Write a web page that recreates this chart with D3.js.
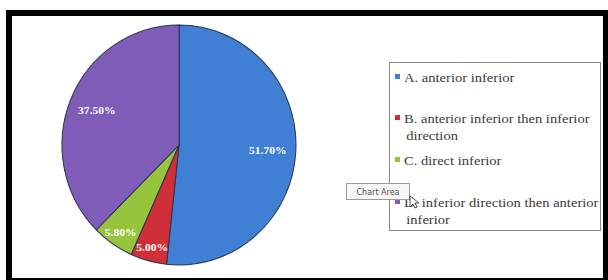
<!DOCTYPE html>
<html>
<head>
<meta charset="utf-8">
<script src="https://cdn.jsdelivr.net/npm/d3@7"></script>
<style>
  body { margin: 0; background: #fff; }
  svg { display: block; }
</style>
</head>
<body>
<div id="chart"></div>
<script>
// slices, clockwise from 12 o'clock
const categories = ["A", "B", "C", "D"]
const values = [51.70, 5.00, 5.80, 37.50]
const pctLabels = ["51.70%", "5.00%", "5.80%", "37.50%"]
const legendLines = [
    ["A. anterior inferior"],
    ["B. anterior inferior then inferior", "direction"],
    ["C. direct inferior"],
    ["D. inferior direction then anterior", "inferior"]
]
const colors = ["#3f7fd4", "#cf2f38", "#96c43c", "#7e5cb7"]

const width = 608, height = 280

const svg = d3.select("#chart").append("svg")
    .attr("width", width)
    .attr("height", height)

// black frame around the picture
svg.append("rect").attr("x", 6).attr("y", 10).attr("width", 602).attr("height", 272).attr("fill", "#000")
svg.append("rect").attr("x", 12).attr("y", 16).attr("width", 591).attr("height", 262).attr("fill", "#fff")

// pie (slightly taller than wide, like the stretched screenshot)
const cx = 179, cy = 145, R = 117
const g = svg.append("g")
    .attr("transform", `translate(${cx},${cy}) scale(1,1.026)`)

const pie = d3.pie().sort(null).value(d => d.value)
const arcs = pie(values.map((v, i) => ({cat: categories[i], value: v, label: pctLabels[i], color: colors[i]})))

const arc = d3.arc().innerRadius(0).outerRadius(R)

g.selectAll("path")
    .data(arcs)
    .join("path")
    .attr("d", arc)
    .attr("fill", d => d.data.color)
    .attr("stroke", "#2d3350")
    .attr("stroke-width", 1)

// data labels: bigger slices closer to centre, small ones near the rim
g.selectAll("text")
    .data(arcs)
    .join("text")
    .attr("transform", d => {
        const r = d.data.value < 10 ? R * 0.88 : R * 0.76
        const c = d3.arc().innerRadius(r).outerRadius(r).centroid(d)
        return `translate(${c[0]},${c[1]}) scale(1.1,${1 / 1.026})`
    })
    .attr("text-anchor", "middle")
    .attr("dy", "0.35em")
    .attr("font-family", "Liberation Serif, serif")
    .attr("font-weight", "bold")
    .attr("font-size", 10.5)
    .attr("fill", "#fff")
    .text(d => d.data.label)

// legend
const legend = svg.append("g")
legend.append("rect")
    .attr("x", 389.5).attr("y", 62.5)
    .attr("width", 211).attr("height", 168)
    .attr("fill", "#fff")
    .attr("stroke", "#8a8a8a")

const rowY = [77, 118, 160, 202]
const items = legend.selectAll("g.item")
    .data(legendLines)
    .join("g")
    .attr("class", "item")
    .attr("transform", (d, i) => `translate(0,${rowY[i]})`)

items.append("rect")
    .attr("x", 395).attr("y", -3)
    .attr("width", 5).attr("height", 5)
    .attr("fill", (d, i) => colors[i])

// text is a bit wider than a plain serif at this height, so stretch it
items.append("g")
    .attr("transform", "translate(404,0) scale(1.12,1)")
    .append("text")
    .attr("font-family", "Liberation Serif, serif")
    .attr("font-size", 13)
    .attr("fill", "#3a3a3a")
    .selectAll("tspan")
    .data(d => d)
    .join("tspan")
    .attr("x", (d, i) => i === 0 ? 0 : 2)
    .attr("y", (d, i) => i * 17)
    .attr("dy", "0.35em")
    .text(d => d)

// "Chart Area" tooltip left over from the screenshot
const tip = svg.append("g")
tip.append("rect")
    .attr("x", 346.5).attr("y", 183.5)
    .attr("width", 63).attr("height", 16)
    .attr("fill", "#f7f7f7")
    .attr("stroke", "#9a9a9a")
tip.append("text")
    .attr("x", 378).attr("y", 192)
    .attr("dy", "0.35em")
    .attr("text-anchor", "middle")
    .attr("font-family", "DejaVu Sans, sans-serif")
    .attr("font-size", 8)
    .attr("fill", "#555")
    .text("Chart Area")
tip.append("path")
    .attr("d", "M410,196 l0,11 l3,-3 l2,4 l2,-1 l-2,-4 l4,0 z")
    .attr("fill", "#fff")
    .attr("stroke", "#222")
    .attr("stroke-width", 0.8)
</script>
</body>
</html>
